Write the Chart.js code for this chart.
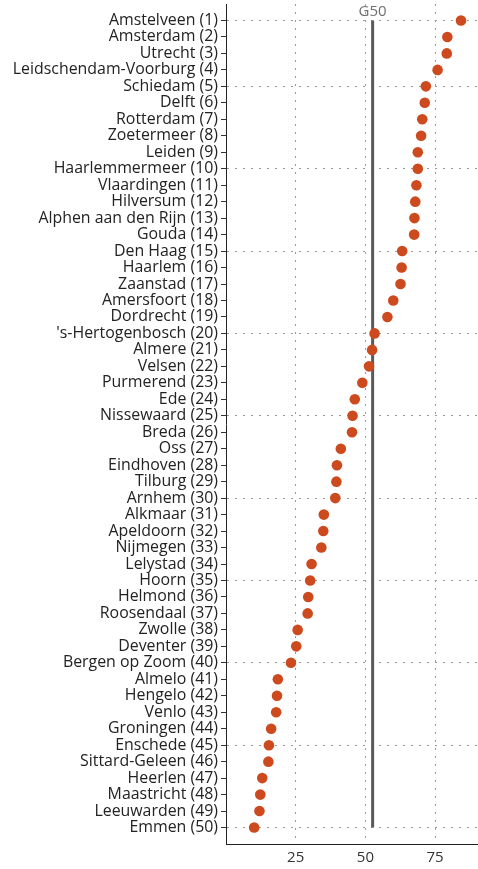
<!DOCTYPE html>
<html>
<head>
<meta charset="utf-8">
<script src="https://cdn.jsdelivr.net/npm/chart.js@4.4.1/dist/chart.umd.min.js"></script>
<style>
  html, body { margin: 0; padding: 0; background: #fff; }
  #wrap { width: 478px; height: 869px; position: relative; }
</style>
</head>
<body>
<div id="wrap"><canvas id="chart"></canvas></div>
<script>
// gemeenten, gesorteerd op score
const gemeenten = [
    'Amstelveen', 'Amsterdam', 'Utrecht', 'Leidschendam-Voorburg', 'Schiedam',
    'Delft', 'Rotterdam', 'Zoetermeer', 'Leiden', 'Haarlemmermeer',
    'Vlaardingen', 'Hilversum', 'Alphen aan den Rijn', 'Gouda', 'Den Haag',
    'Haarlem', 'Zaanstad', 'Amersfoort', 'Dordrecht', "'s-Hertogenbosch",
    'Almere', 'Velsen', 'Purmerend', 'Ede', 'Nissewaard',
    'Breda', 'Oss', 'Eindhoven', 'Tilburg', 'Arnhem',
    'Alkmaar', 'Apeldoorn', 'Nijmegen', 'Lelystad', 'Hoorn',
    'Helmond', 'Roosendaal', 'Zwolle', 'Deventer', 'Bergen op Zoom',
    'Almelo', 'Hengelo', 'Venlo', 'Groningen', 'Enschede',
    'Sittard-Geleen', 'Heerlen', 'Maastricht', 'Leeuwarden', 'Emmen'
];
const scores = [
    84.3, 79.4, 79.2, 75.9, 71.7,
    71.3, 70.4, 70.0, 68.8, 68.8,
    68.3, 67.9, 67.6, 67.5, 63.2,
    63.0, 62.6, 60.0, 57.9, 53.3,
    52.4, 51.3, 48.9, 46.2, 45.4,
    45.2, 41.2, 39.8, 39.6, 39.2,
    35.1, 34.9, 34.2, 30.7, 30.2,
    29.5, 29.3, 25.7, 25.2, 23.3,
    18.6, 18.3, 18.0, 16.2, 15.4,
    15.2, 13.0, 12.3, 12.0, 10.1
];
const xTicks = [25, 50, 75];
const rangLijnen = [1, 5, 10, 15, 20, 25, 30, 35, 40, 45, 50];
const g50 = 52.6;

const labels = gemeenten.map((g, i) => `${g} (${i + 1})`);
const punten = scores.map((v, i) => ({ x: v, y: i + 1 }));

const FONT = "'Open Sans', 'Noto Sans', sans-serif";
const dotted = [2, 6];

// label "G50" boven de referentielijn
const g50Label = {
    id: 'g50Label',
    afterDatasetsDraw(chart) {
        const { ctx, scales: { x, y } } = chart;
        ctx.save();
        ctx.font = `15px ${FONT}`;
        ctx.fillStyle = '#6e6e6e';
        ctx.textAlign = 'center';
        ctx.textBaseline = 'bottom';
        ctx.fillText('G50', x.getPixelForValue(g50), y.getPixelForValue(1) - 1);
        ctx.restore();
    }
};

new Chart(document.getElementById('chart'), {
    type: 'scatter',
    data: {
        datasets: [
            {
                type: 'line',
                data: [{ x: g50, y: 1 }, { x: g50, y: labels.length }],
                borderColor: '#5a5a5a',
                borderWidth: 3,
                pointRadius: 0,
                order: 2
            },
            {
                data: punten,
                backgroundColor: '#cc4a1e',
                borderWidth: 0,
                pointRadius: 5.3,
                order: 1
            }
        ]
    },
    options: {
        responsive: true,
        maintainAspectRatio: false,
        animation: false,
        layout: { autoPadding: false, padding: { top: 4, right: 0, left: 0, bottom: 0 } },
        plugins: { legend: { display: false }, tooltip: { enabled: false } },
        scales: {
            x: {
                type: 'linear',
                min: 0,
                max: 90.4,
                afterBuildTicks: s => { s.ticks = xTicks.map(v => ({ value: v })); },
                afterFit: s => { s.height = 25; s.paddingLeft = 0; s.paddingRight = 0; },
                grid: { color: '#9a9a9a', lineWidth: 1, drawTicks: false },
                border: { display: true, color: '#222', width: 1, dash: dotted },
                ticks: { color: '#333', font: { family: FONT, size: 15 }, padding: 5, maxRotation: 0 }
            },
            y: {
                type: 'linear',
                reverse: true,
                min: 0,
                max: labels.length + 1,
                afterBuildTicks: s => { s.ticks = labels.map((_, i) => ({ value: i + 1 })); },
                afterFit: s => { s.width = 226; s.paddingTop = 0; s.paddingBottom = 0; },
                grid: {
                    color: c => rangLijnen.includes(c.tick && c.tick.value) ? '#9a9a9a' : 'rgba(0,0,0,0)',
                    lineWidth: 1,
                    tickColor: '#333',
                    tickLength: 5
                },
                border: { display: true, color: '#222', width: 1, dash: dotted },
                ticks: {
                    color: '#222',
                    font: { family: FONT, size: 15.9 },
                    padding: 3,
                    autoSkip: false,
                    callback: v => labels[v - 1]
                }
            }
        }
    },
    plugins: [g50Label]
});
</script>
</body>
</html>
